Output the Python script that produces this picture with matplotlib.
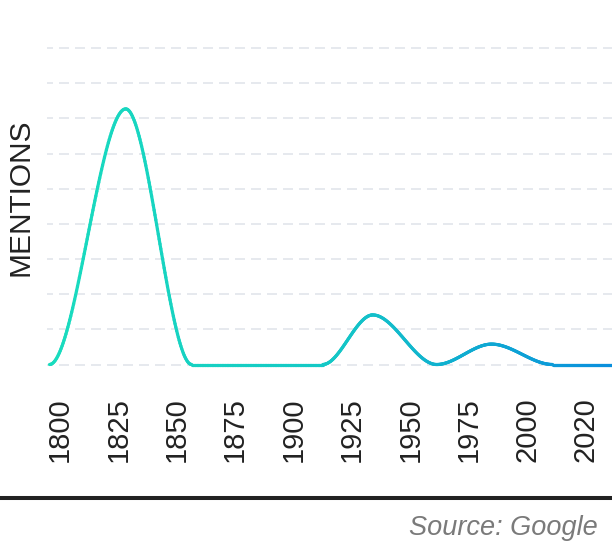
import numpy as np
import matplotlib
matplotlib.use("Agg")
import matplotlib.pyplot as plt
from matplotlib.collections import LineCollection
from matplotlib.colors import LinearSegmentedColormap
from matplotlib.lines import Line2D

plt.rcParams['font.family'] = ['Liberation Sans', 'DejaVu Sans']

# x axis labels (evenly spaced, one per slot)
tick_labels = ['1800', '1825', '1850', '1875', '1900', '1925', '1950', '1975', '2000', '2020']

# key points of the curve: position along the label slots, and mentions (grid units)
pt_pos = [-0.18, 1.125, 2.255, 4.50, 5.355, 6.45, 7.39, 8.435, 9.60]
pt_val = [0.0, 7.27, 0.0, 0.0, 1.41, 0.0, 0.58, 0.0, 0.0]

fig = plt.figure(figsize=(6.12, 5.44), dpi=100)
ax = fig.add_axes([47/612, 172/544, 565/612, 332/544])

# smooth curve: cubic hermite with flat tangents at every key point
xs, ys = [], []
for i in range(len(pt_pos) - 1):
    t = np.linspace(0, 1, 80)
    s = 3*t**2 - 2*t**3
    xs.append(pt_pos[i] + (pt_pos[i+1] - pt_pos[i])*t)
    ys.append(pt_val[i] + (pt_val[i+1] - pt_val[i])*s)
x = np.concatenate(xs)
y = np.concatenate(ys)

pts = np.column_stack([x, y]).reshape(-1, 1, 2)
segs = np.concatenate([pts[:-1], pts[1:]], axis=1)
cmap = LinearSegmentedColormap.from_list('teal_blue', ['#19dcbe', '#14c8c6', '#0a8fdd'])
lc = LineCollection(segs, cmap=cmap, linewidths=2.3, capstyle='round', joinstyle='round')
lc.set_array(x[:-1])
lc.set_clim(pt_pos[0], 9.45)
ax.add_collection(lc)

ax.set_xlim(-0.223, 9.452)
ax.set_ylim(-0.213, 9.23)

ax.set_yticks(range(10))
ax.yaxis.grid(True, color='#e6e9ee', lw=1.44, ls=(2, (5, 3)))
ax.set_axisbelow(True)
ax.set_xticks(range(len(tick_labels)))
ax.set_xticklabels(tick_labels, rotation=90)
ax.tick_params(axis='x', length=0, pad=18, labelsize=21, labelcolor='#222222')
ax.tick_params(axis='y', length=0, labelleft=False)
for sp in ax.spines.values():
    sp.set_visible(False)

fig.text(20.5/612, 1 - 197.5/544, 'MENTIONS', rotation=90, ha='center', va='center',
         fontsize=21.5, color='#222222')

fig.add_artist(Line2D([0, 1], [1 - 498/544]*2, transform=fig.transFigure,
                      color='#222222', lw=2.9))

fig.text(598/612, 1 - 528/544, 'Source: Google', ha='right', va='center',
         style='italic', fontsize=19.5, color='#7a7a7a')

fig.savefig('out.png', dpi=100)
